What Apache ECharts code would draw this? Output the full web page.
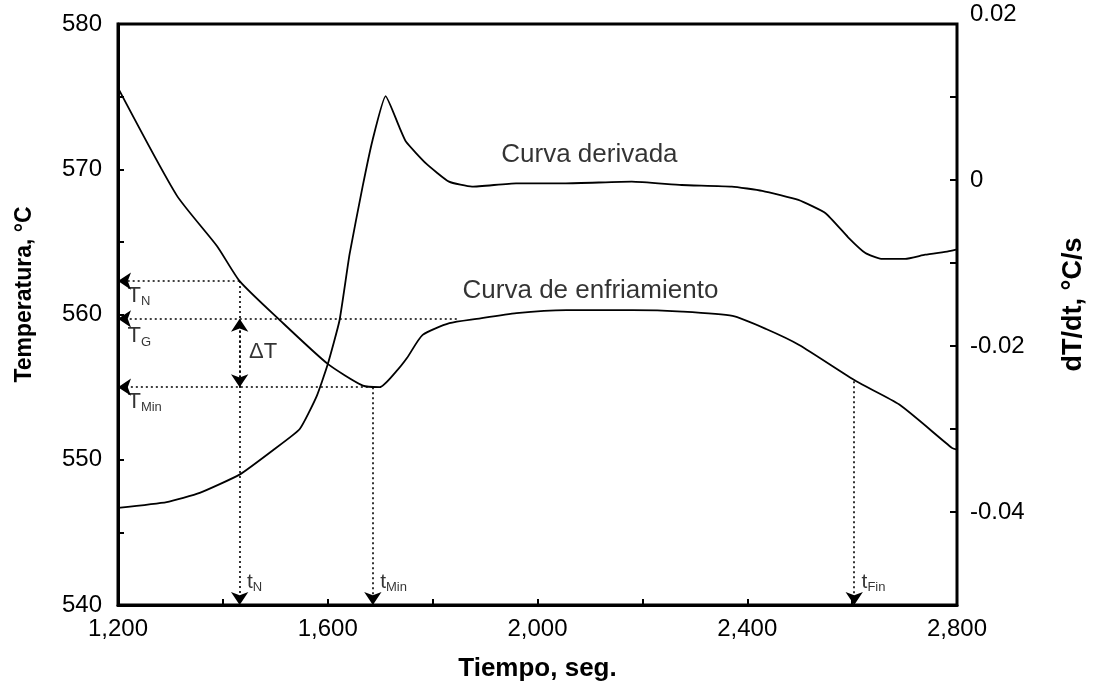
<!DOCTYPE html>
<html>
<head>
<meta charset="utf-8">
<script src="https://cdn.jsdelivr.net/npm/echarts@6/dist/echarts.min.js"></script>
<style>
html,body{margin:0;padding:0;background:#fff;}
#chart{width:1095px;height:691px;}
</style>
</head>
<body>
<div id="chart"></div>
<script>
// ---- Data ----
const timeCooling = [1200, 1312, 1389, 1432, 1509, 1600, 1667, 1699, 1731, 1751, 1781, 1832, 1884, 1960, 2055, 2181, 2276, 2372, 2436, 2499, 2608, 2690, 2791, 2800];
const tempCooling = [575.6, 568.2, 564.7, 562.3, 559.6, 556.6, 555.1, 555.0, 556.1, 557.0, 558.6, 559.4, 559.7, 560.1, 560.3, 560.3, 560.2, 559.9, 559.0, 557.9, 555.4, 553.8, 550.8, 550.7];

const timeDeriv = [1200, 1293, 1356, 1432, 1497, 1547, 1579, 1600, 1623, 1642, 1667, 1686, 1711, 1737, 1750, 1788, 1832, 1876, 1960, 2055, 2181, 2276, 2372, 2430, 2499, 2551, 2594, 2627, 2657, 2703, 2741, 2785, 2800];
const dTdt = [-0.0395, -0.0388, -0.0377, -0.0355, -0.0325, -0.0300, -0.0261, -0.0223, -0.0169, -0.0090, -0.0008, 0.0048, 0.0101, 0.0064, 0.0046, 0.0020, -0.0002, -0.0008, -0.0004, -0.0004, -0.0002, -0.0006, -0.0008, -0.0013, -0.0024, -0.0040, -0.0069, -0.0088, -0.0095, -0.0095, -0.0090, -0.0086, -0.0084];

// characteristic points
const tN = 1432, TN = 562.3;
const tMin = 1686, TMin = 555.0;
const TG = 559.7, tGend = 1846;
const tFin = 2604, TFin = 555.4;

// axis ticks / labels
const xLabelValues = [1200, 1600, 2000, 2400, 2800];
const xTickValues = [1400, 1600, 1800, 2000, 2200, 2400, 2600];
const leftLabelValues = [540, 550, 560, 570, 580];
const leftTickValues = [545, 550, 555, 560, 565, 570, 575];
const rightLabelValues = [0.02, 0, -0.02, -0.04];
const rightTickValues = [0.01, 0, -0.01, -0.02, -0.03, -0.04];

// text annotations [time, temperature, text]
const annotations = [
  [1218, 561.3, '{m|T}{s|N}'],
  [1218, 558.5, '{m|T}{s|G}'],
  [1218, 554.0, '{m|T}{s|Min}'],
  [1450, 557.4, '{m|ΔT}'],
  [1446, 541.6, '{t|t}{s|N}'],
  [1700, 541.6, '{t|t}{s|Min}'],
  [2618, 541.6, '{t|t}{s|Fin}']
];
const curveLabels = [
  [2099, 571.0, 'Curva derivada'],
  [2101, 561.6, 'Curva de enfriamiento']
];

const FONT = 'Liberation Sans, Arial, sans-serif';
const cooling = timeCooling.map((t, i) => [t, tempCooling[i]]);
const deriv = timeDeriv.map((t, i) => [t, dTdt[i]]);

const dotted = {color: '#000', type: [2, 3], width: 1.6};
function seg(a, b, s0, s1) {
  return [{coord: a, symbol: s0}, {coord: b, symbol: s1}];
}

const chart = echarts.init(document.getElementById('chart'), null, {renderer: 'canvas'});
const option = {
  backgroundColor: '#fff',
  animation: false,
  textStyle: {fontFamily: FONT, color: '#000'},
  grid: [
    {left: 118, right: 138, top: 24, bottom: 86, show: true, borderColor: '#000', borderWidth: 3, backgroundColor: 'transparent'},
    {left: 118, right: 138, top: 14, bottom: 96, show: false}
  ],
  xAxis: [
    {
      type: 'value', gridIndex: 0, min: 1200, max: 2800, interval: 200,
      axisLine: {show: true, lineStyle: {color: '#000', width: 3}},
      axisTick: {show: true, inside: true, length: 6, lineStyle: {color: '#000', width: 2}, customValues: xTickValues},
      axisLabel: {customValues: xLabelValues, color: '#000', fontSize: 24, fontFamily: FONT, margin: 12,
        formatter: v => v.toLocaleString('en-US')},
      splitLine: {show: false},
      name: 'Tiempo, seg.', nameLocation: 'middle', nameGap: 51,
      nameTextStyle: {fontSize: 26, fontWeight: 'bold', color: '#000', fontFamily: FONT}
    },
    {
      type: 'value', gridIndex: 1, min: 1200, max: 2800, show: false
    }
  ],
  yAxis: [
    {
      type: 'value', gridIndex: 0, min: 540, max: 580, interval: 10, position: 'left',
      axisLine: {show: true, lineStyle: {color: '#000', width: 3}},
      axisTick: {show: true, inside: true, length: 6, lineStyle: {color: '#000', width: 2}, customValues: leftTickValues},
      axisLabel: {customValues: leftLabelValues, color: '#000', fontSize: 24, fontFamily: FONT, margin: 16},
      splitLine: {show: false},
      name: 'Temperatura, °C', nameLocation: 'middle', nameGap: 82, nameRotate: 90,
      nameTextStyle: {fontSize: 23, fontWeight: 'bold', color: '#000', fontFamily: FONT, padding: [0, 0, 0, 40]}
    },
    {
      type: 'value', gridIndex: 1, min: -0.05, max: 0.02, interval: 0.01, position: 'right',
      axisLine: {show: false},
      axisTick: {show: true, inside: true, length: 6, lineStyle: {color: '#000', width: 2}, customValues: rightTickValues},
      axisLabel: {customValues: rightLabelValues, color: '#000', fontSize: 24, fontFamily: FONT, margin: 14,
        formatter: v => (v === 0 ? '0' : v.toFixed(2))},
      splitLine: {show: false},
      name: 'dT/dt, °C/s', nameLocation: 'middle', nameGap: 104, nameRotate: 90,
      nameTextStyle: {fontSize: 27, fontWeight: 'bold', color: '#000', fontFamily: FONT}
    }
  ],
  series: [
    {
      name: 'Curva de enfriamiento', type: 'line', xAxisIndex: 0, yAxisIndex: 0,
      data: cooling, showSymbol: false, smooth: 0.2,
      lineStyle: {color: '#000', width: 1.8},
      markLine: {
        silent: true, symbolSize: 13, label: {show: false},
        lineStyle: dotted,
        data: [
          seg([tN, TN], [1200, TN], 'none', 'arrow'),
          seg([tGend, TG], [1200, TG], 'none', 'arrow'),
          seg([tMin, TMin], [1200, TMin], 'none', 'arrow'),
          seg([tN, TN], [tN, 540], 'none', 'arrow'),
          seg([tMin, TMin], [tMin, 540], 'none', 'arrow'),
          seg([tFin, TFin], [tFin, 540], 'none', 'arrow'),
          seg([tN, TMin], [tN, TG], 'arrow', 'arrow')
        ]
      }
    },
    {
      name: 'Curva derivada', type: 'line', xAxisIndex: 1, yAxisIndex: 1,
      data: deriv, showSymbol: false, smooth: 0.15,
      lineStyle: {color: '#000', width: 1.8}
    },
    {
      type: 'scatter', xAxisIndex: 0, yAxisIndex: 0, symbolSize: 0, silent: true,
      data: annotations.map(a => ({value: [a[0], a[1]], text: a[2]})),
      label: {
        show: true, position: 'inside', align: 'left', verticalAlign: 'middle',
        formatter: p => p.data.text,
        rich: {
          m: {fontSize: 22, color: '#000', fontFamily: FONT},
          t: {fontSize: 21, color: '#000', fontFamily: FONT},
          s: {fontSize: 13, color: '#000', fontFamily: FONT, padding: [12, 0, 0, 0]}
        }
      }
    },
    {
      type: 'scatter', xAxisIndex: 0, yAxisIndex: 0, symbolSize: 0, silent: true,
      data: curveLabels.map(a => ({value: [a[0], a[1]], text: a[2]})),
      label: {
        show: true, position: 'inside', align: 'center', verticalAlign: 'middle',
        formatter: p => p.data.text, fontSize: 26, color: '#000', fontFamily: FONT
      }
    }
  ]
};
chart.setOption(option);
</script>
</body>
</html>
